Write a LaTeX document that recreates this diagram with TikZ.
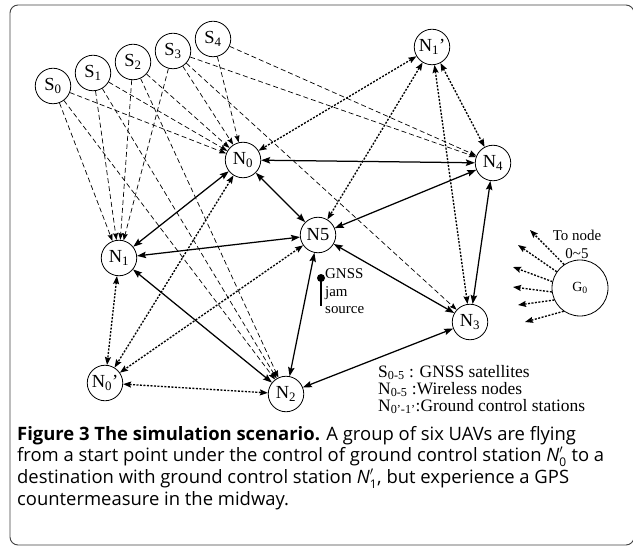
\documentclass[tikz,border=0pt]{standalone}
\usepackage{fontspec}
\setmainfont{Liberation Serif}
\newfontfamily\capfont{Open Sans}
\usetikzlibrary{arrows.meta}
\newcommand{\capsub}[1]{$\mbox{\textit{N}}'_{\mbox{\fontsize{12}{12}\selectfont #1}}$}
\begin{document}
\begin{tikzpicture}[x=1bp,y=-1bp,
  nd/.style={circle,draw,line width=0.8bp,minimum size=35.5bp,inner sep=0pt,font=\fontsize{18.5}{18.5}\selectfont},
  gd/.style={circle,draw,line width=0.8bp,minimum size=56bp,inner sep=0pt,font=\fontsize{14}{14}\selectfont},
  sat/.style={-{Stealth[length=7bp,width=5bp,inset=1bp]},dash pattern=on 5bp off 3bp,line width=0.7bp},
  link/.style={{Stealth[length=9bp,width=6.5bp,inset=1.5bp]}-{Stealth[length=9bp,width=6.5bp,inset=1.5bp]},line width=1.25bp},
  gnd/.style={{Stealth[length=8bp,width=6bp,inset=1.2bp]}-{Stealth[length=8bp,width=6bp,inset=1.2bp]},dash pattern=on 2bp off 1.5bp,line width=1.35bp},
  gout/.style={-{Stealth[length=8bp,width=6bp,inset=1.2bp]},dash pattern=on 2bp off 1.5bp,line width=1.35bp},
  txt/.style={inner sep=0pt,font=\fontsize{15}{15}\selectfont},
  legtxt/.style={inner sep=0pt,anchor=base west,font=\fontsize{17.5}{17.5}\selectfont},
]
\useasboundingbox (0,0) rectangle (633,548);
\draw[line width=0.9bp,rounded corners=8bp,black!75] (10,5) rectangle (634,545);

% satellites
\node[nd] (S0) at (53,86) {S\textsubscript{0}};
\node[nd] (S1) at (93,73) {S\textsubscript{1}};
\node[nd] (S2) at (133,62) {S\textsubscript{2}};
\node[nd] (S3) at (173,51) {S\textsubscript{3}};
\node[nd] (S4) at (213,39) {S\textsubscript{4}};
% wireless nodes
\node[nd] (N0) at (243,160) {N\textsubscript{0}};
\node[nd] (N1) at (119,258) {N\textsubscript{1}};
\node[nd] (N2) at (286,394) {N\textsubscript{2}};
\node[nd] (N3) at (470,322) {N\textsubscript{3}};
\node[nd] (N4) at (493,163) {N\textsubscript{4}};
\node[nd] (N5) at (318,235) {N5};
% ground stations
\node[nd] (N0p) at (105,383) {N\textsubscript{0}'};
\node[nd] (N1p) at (432,47) {N\textsubscript{1}'};
\node[gd] (G0) at (580,288) {G\textsubscript{0}};

% satellite links
\draw[sat] (S0) -- (N0);
\draw[sat] (S0) -- (N1);
\draw[sat] (S0) -- (N2);
\draw[sat] (S1) -- (N0);
\draw[sat] (S1) -- (N1);
\draw[sat] (S1) -- (N2);
\draw[sat] (S2) -- (N0);
\draw[sat] (S2) -- (N1);
\draw[sat] (S2) -- (N2);
\draw[sat] (S3) -- (N0);
\draw[sat] (S3) -- (N1);
\draw[sat] (S3) -- (N3);
\draw[sat] (S3) -- (N4);
\draw[sat] (S4) -- (N0);
\draw[sat] (S4) -- (N4);

% wireless links
\draw[link] (N0) -- (N4);
\draw[link] (N0) -- (N5);
\draw[link] (N0) -- (N1);
\draw[link] (N1) -- (N5);
\draw[link] (N1) -- (N2);
\draw[link] (N5) -- (N2);
\draw[link] (N5) -- (N3);
\draw[link] (N2) -- (N3);
\draw[link] (N4) -- (N5);
\draw[link] (N4) -- (N3);

% ground control links
\draw[gnd] (N1p) -- (N0);
\draw[gnd] (N1p) -- (N5);
\draw[gnd] (N1p) -- (N3);
\draw[gnd] (N1p) -- (N4);
\draw[gnd] (N1) -- (N0p);
\draw[gnd] (N0) -- (N0p);
\draw[gnd] (N5) -- (N0p);
\draw[gnd] (N0p) -- (N2);

% G0 outgoing
\coordinate (g1) at (530,230);
\coordinate (g2) at (518,245);
\coordinate (g3) at (513,267);
\coordinate (g4) at (513,287);
\coordinate (g5) at (518,305);
\coordinate (g6) at (525,322);
\draw[gout] (G0.124) -- (g1);
\draw[gout] (G0.145) -- (g2);
\draw[gout] (G0.167) -- (g3);
\draw[gout] (G0.188) -- (g4);
\draw[gout] (G0.205) -- (g5);
\draw[gout] (G0.235) -- (g6);
\node[txt,anchor=base] (ton) at (577,241) {To node};
\node[txt,anchor=base] (tor) at (577,258) {0\textasciitilde 5};

% jam source
\node[circle,fill,inner sep=0pt,minimum size=8bp] (jam) at (321,278) {};
\coordinate (jamb) at (321,306);
\draw[line width=2.2bp] (jam.center) -- (jamb);
\node[txt,anchor=base west] (j1) at (325,278) {GNSS};
\node[txt,anchor=base west] (j2) at (325,296) {jam};
\node[txt,anchor=base west] (j3) at (325,313) {source};

% legend
\node[legtxt] (l1) at (378,377) {S\textsubscript{0-5} : GNSS satellites};
\node[legtxt] (l2) at (378,394) {N\textsubscript{0-5} :Wireless nodes};
\node[legtxt] (l3) at (378,411) {N\textsubscript{0'-1'}:Ground control stations};

% caption
\node[inner sep=0pt,anchor=base west] (cap) at (17,440) {\parbox[t]{612bp}{\capfont\fontsize{18.5}{22}\selectfont\raggedright
{\bfseries Figure 3 The simulation scenario.} A group of six UAVs are flying\\
from a start point under the control of ground control station \capsub{0} to a\\
destination with ground control station \capsub{1}, but experience a GPS\\
countermeasure in the midway.}};
\end{tikzpicture}
\end{document}
